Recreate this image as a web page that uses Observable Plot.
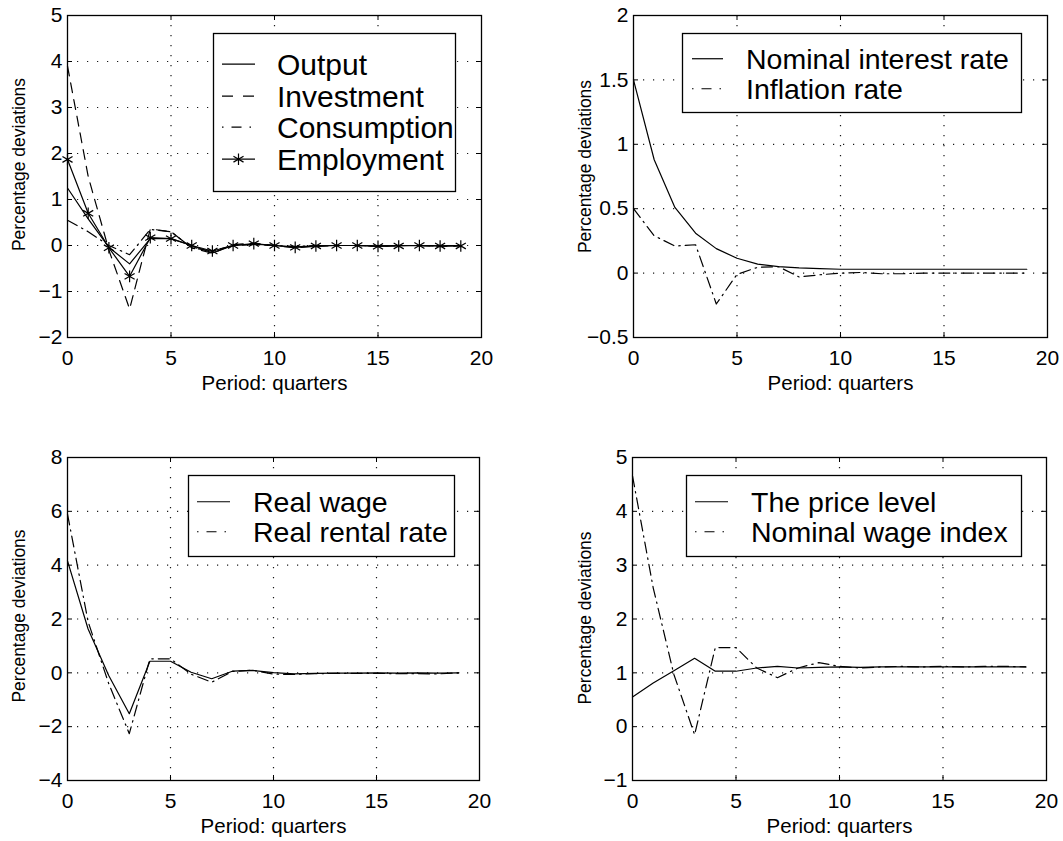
<!DOCTYPE html>
<html><head><meta charset="utf-8">
<script src="https://cdn.jsdelivr.net/npm/d3@7"></script>
<script src="https://cdn.jsdelivr.net/npm/@observablehq/plot@0.6"></script>
<style>
html,body{margin:0;padding:0;background:#fff;}
body{width:1063px;height:841px;position:relative;overflow:hidden;font-family:"Liberation Sans",Arial,Helvetica,sans-serif;}
.panel{position:absolute;}
.legend{position:absolute;overflow:visible;}
</style></head><body>
<div id="root"></div>
<script>
// ---- data ----
const periods = [0,1,2,3,4,5,6,7,8,9,10,11,12,13,14,15,16,17,18,19];
const xTicks = [0,5,10,15,20];

// Panel 1
const output      = [1.25, 0.58, -0.04, -0.40, 0.15, 0.15, 0.00, -0.16, 0.00, 0.03, 0.00, -0.03, -0.01, 0.00, 0.00, -0.01, 0.00, 0.00, -0.01, 0.00];
const investment  = [3.90, 1.50, -0.10, -1.38, 0.36, 0.30, -0.05, -0.17, 0.02, 0.05, 0.00, -0.05, -0.02, 0.00, 0.00, -0.02, 0.00, 0.00, -0.02, -0.01];
const consumption = [0.55, 0.30, 0.00, -0.20, 0.35, 0.30, -0.05, -0.12, 0.00, 0.02, 0.00, -0.02, 0.00, 0.00, 0.00, -0.01, 0.00, 0.00, -0.01, 0.00];
const employment  = [1.87, 0.70, -0.05, -0.67, 0.17, 0.15, 0.00, -0.12, 0.00, 0.04, 0.00, -0.04, -0.01, 0.00, 0.00, -0.02, -0.01, 0.00, -0.01, -0.01];
const yTicks1 = [-2,-1,0,1,2,3,4,5];

// Panel 2
const nominalRate = [1.50, 0.88, 0.51, 0.31, 0.19, 0.115, 0.07, 0.05, 0.04, 0.035, 0.03, 0.03, 0.03, 0.03, 0.03, 0.03, 0.03, 0.03, 0.03, 0.03];
const inflation   = [0.50, 0.29, 0.21, 0.22, -0.24, -0.01, 0.045, 0.05, -0.03, -0.013, 0.00, 0.005, -0.005, -0.005, 0.00, 0.00, 0.00, 0.00, 0.00, 0.00];
const yTicks2 = [-0.5,0,0.5,1,1.5,2];

// Panel 3
const realWage   = [4.16, 1.63, -0.10, -1.52, 0.43, 0.43, 0.02, -0.22, 0.06, 0.09, 0.01, -0.04, -0.02, -0.01, -0.01, 0.00, -0.01, 0.00, -0.01, 0.00];
const rentalRate = [5.90, 1.90, -0.40, -2.26, 0.52, 0.52, -0.05, -0.35, 0.05, 0.10, -0.05, -0.06, -0.03, -0.02, -0.02, -0.02, -0.03, -0.03, -0.04, 0.00];
const yTicks3 = [-4,-2,0,2,4,6,8];

// Panel 4
const priceLevel  = [0.55, 0.81, 1.04, 1.27, 1.03, 1.03, 1.09, 1.12, 1.09, 1.10, 1.11, 1.10, 1.11, 1.11, 1.11, 1.11, 1.11, 1.11, 1.11, 1.11];
const nominalWage = [4.66, 2.58, 0.97, -0.15, 1.47, 1.47, 1.09, 0.91, 1.09, 1.19, 1.12, 1.09, 1.11, 1.12, 1.11, 1.12, 1.11, 1.12, 1.12, 1.11];
const yTicks4 = [-1,0,1,2,3,4,5];

const xLabel = "Period: quarters";
const yLabel = "Percentage deviations";

// ---- styles ----
const DASH = "10,7";
const DASHDOT = "11,5,1.5,5";
const FONT = '"Liberation Sans",Arial,Helvetica,sans-serif';

function rowsOf(values){ return periods.map((p,i)=>({period:p, value:values[i]})); }

function panel({left, top, width, height, ml, mr, mt, mb, yTicks, series, yLabelDy}) {
  const H = height - mt - mb, W = width - ml - mr;
  const fmt = d3.format("~g");
  const marks = [
    Plot.gridX(xTicks.slice(1,-1), {stroke:"#000", strokeOpacity:0.9, strokeWidth:1.2, strokeDasharray:"1.2,8.8"}),
    Plot.gridY(yTicks.slice(1,-1), {stroke:"#000", strokeOpacity:0.9, strokeWidth:1.2, strokeDasharray:"1.2,8.8"}),
    Plot.tickX(xTicks, {x:d=>d, insetTop:H-5, stroke:"#000"}),
    Plot.tickX(xTicks, {x:d=>d, insetBottom:H-5, stroke:"#000"}),
    Plot.tickY(yTicks, {y:d=>d, insetRight:W-5, stroke:"#000"}),
    Plot.tickY(yTicks, {y:d=>d, insetLeft:W-5, stroke:"#000"}),
    Plot.frame({stroke:"#000", strokeWidth:1.3}),
    Plot.axisX(xTicks, {tickSize:0, tickPadding:13, fontSize:21, label:null}),
    Plot.axisY(yTicks, {tickSize:0, tickPadding:5, fontSize:21, label:null, tickFormat:fmt}),
    Plot.text([xLabel], {text:d=>d, frameAnchor:"bottom", dy:38, lineAnchor:"top", fontSize:20.5}),
    Plot.text([yLabel], {text:d=>d, frameAnchor:"left", dx:-(ml-18.5), dy:yLabelDy, rotate:-90, lineAnchor:"middle", textAnchor:"middle", fontSize:17.5})
  ];
  for (const s of series) {
    const data = rowsOf(s.values);
    marks.push(Plot.line(data, {x:"period", y:"value", stroke:"#000", strokeWidth:1.2, strokeDasharray:s.dash || null}));
    if (s.marker) marks.push(Plot.dot(data, {x:"period", y:"value", symbol:"asterisk", r:5.5, stroke:"#000", strokeWidth:1.2}));
  }
  const chart = Plot.plot({
    width, height, marginLeft:ml, marginRight:mr, marginTop:mt, marginBottom:mb,
    style:{fontFamily:FONT, fontSize:"21px", color:"#000", background:"transparent"},
    x:{domain:[0,20], label:null},
    y:{domain:[yTicks[0], yTicks[yTicks.length-1]], label:null},
    marks
  });
  const div = document.createElement("div");
  div.className = "panel";
  div.style.left = left+"px"; div.style.top = top+"px";
  div.appendChild(chart);
  document.getElementById("root").appendChild(div);
}

function legend({x, y, w, h, fontSize, baselines, sx1, sx2, tx, items}) {
  const svg = d3.select("#root").append("svg").attr("class","legend")
    .style("left", x+"px").style("top", y+"px").attr("width", w).attr("height", h);
  svg.append("rect").attr("x",0.5).attr("y",0.5).attr("width",w-1).attr("height",h-1)
    .attr("fill","#fff").attr("stroke","#000").attr("stroke-width",1.3);
  items.forEach((it,i)=>{
    const by = baselines[i], ly = by - fontSize*0.36;
    svg.append("line").attr("x1",sx1).attr("x2",sx2).attr("y1",ly).attr("y2",ly)
      .attr("stroke","#000").attr("stroke-width",1.2)
      .attr("stroke-dasharray", it.legendDash || null);
    if (it.marker) svg.append("path").attr("transform",`translate(${(sx1+sx2)/2},${ly})`)
      .attr("d", d3.symbol(d3.symbolAsterisk, Math.PI*5.5*5.5)()).attr("stroke","#000").attr("stroke-width",1.2).attr("fill","none");
    svg.append("text").attr("x",tx).attr("y",by).attr("font-family",FONT).attr("font-size",fontSize)
      .attr("fill","#000").text(it.label);
  });
}

// ---- panels ----
panel({left:0, top:0, width:497, height:400, ml:67, mr:16, mt:15, mb:63, yTicks:yTicks1, yLabelDy:-12,
  series:[{values:output},{values:investment, dash:DASH},{values:consumption, dash:DASHDOT},{values:employment, marker:true}]});
panel({left:566, top:0, width:497, height:400, ml:67, mr:16, mt:15, mb:63, yTicks:yTicks2, yLabelDy:-10,
  series:[{values:nominalRate},{values:inflation, dash:DASHDOT}]});
panel({left:0, top:420, width:497, height:421, ml:67, mr:18, mt:37, mb:61, yTicks:yTicks3, yLabelDy:-3,
  series:[{values:realWage},{values:rentalRate, dash:DASHDOT}]});
panel({left:566, top:420, width:497, height:421, ml:66, mr:17, mt:37, mb:61, yTicks:yTicks4, yLabelDy:-1,
  series:[{values:priceLevel},{values:nominalWage, dash:DASHDOT}]});

// ---- legends ----
legend({x:213, y:33, w:243, h:159, fontSize:30, baselines:[42,74,105,137], sx1:9, sx2:42, tx:64,
  items:[{label:"Output"},{label:"Investment", legendDash:"11,10"},{label:"Consumption", legendDash:"1.5,8,10,8"},{label:"Employment", marker:true}]});
legend({x:682, y:33, w:340, h:80, fontSize:28.5, baselines:[36,66], sx1:10, sx2:41, tx:64,
  items:[{label:"Nominal interest rate"},{label:"Inflation rate", legendDash:"1.5,8,10,8"}]});
legend({x:188, y:475, w:267, h:82, fontSize:28.5, baselines:[37,67], sx1:9, sx2:42, tx:65,
  items:[{label:"Real wage"},{label:"Real rental rate", legendDash:"1.5,8,10,8"}]});
legend({x:686, y:475, w:336, h:82, fontSize:28.5, baselines:[37,67], sx1:9, sx2:42, tx:65,
  items:[{label:"The price level"},{label:"Nominal wage index", legendDash:"1.5,8,10,8"}]});
</script>
</body></html>
